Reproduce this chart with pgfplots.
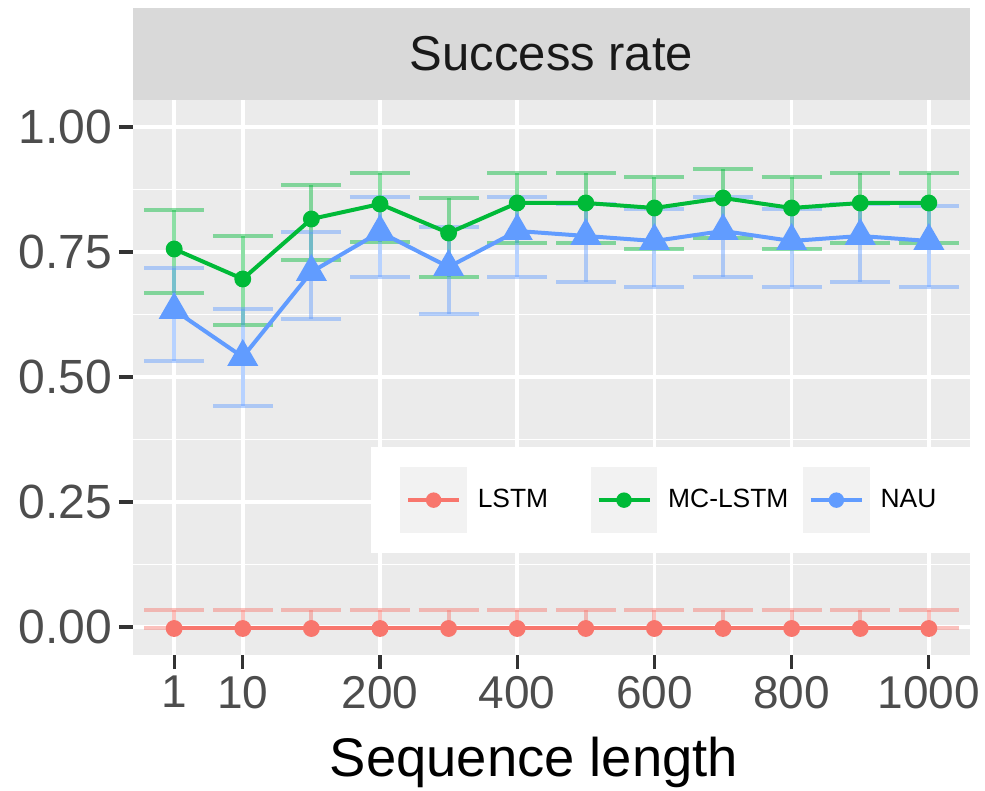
\documentclass[border=0pt]{standalone}
\usepackage{fontspec}
\setmainfont{Liberation Sans}
\usepackage{pgfplots}
\usepackage{pgfplotstable}
\pgfplotsset{compat=1.18}

\definecolor{lstm}{HTML}{F8766D}
\definecolor{mclstm}{HTML}{00BA38}
\definecolor{nau}{HTML}{619CFF}
\definecolor{panelbg}{HTML}{EBEBEB}
\definecolor{stripbg}{HTML}{D9D9D9}
\definecolor{keybg}{HTML}{F2F2F2}
\definecolor{ticktext}{HTML}{4D4D4D}
\definecolor{tickcol}{HTML}{333333}

% x = position of the sequence length (1,10,100,...,1000), y = mean, ep/em = error up/down
\pgfplotstableread{
x y ep em
0 -0.003 0.037 0.000
1 -0.003 0.037 0.000
2 -0.003 0.037 0.000
3 -0.003 0.037 0.000
4 -0.003 0.037 0.000
5 -0.003 0.037 0.000
6 -0.003 0.037 0.000
7 -0.003 0.037 0.000
8 -0.003 0.037 0.000
9 -0.003 0.037 0.000
10 -0.003 0.037 0.000
11 -0.003 0.037 0.000
}\lstmdata

\pgfplotstableread{
x y ep em
0 0.756 0.078 0.088
1 0.696 0.086 0.092
2 0.816 0.068 0.082
3 0.846 0.062 0.076
4 0.788 0.070 0.088
5 0.848 0.060 0.080
6 0.848 0.060 0.080
7 0.838 0.062 0.082
8 0.858 0.058 0.080
9 0.838 0.062 0.082
10 0.848 0.060 0.080
11 0.848 0.060 0.080
}\mcdata

\pgfplotstableread{
x y ep em
0 0.634 0.084 0.102
1 0.540 0.096 0.098
2 0.710 0.080 0.094
3 0.790 0.070 0.090
4 0.720 0.080 0.094
5 0.792 0.068 0.092
6 0.782 0.064 0.092
7 0.772 0.064 0.092
8 0.792 0.068 0.092
9 0.772 0.064 0.092
10 0.782 0.064 0.092
11 0.772 0.070 0.092
}\naudata

\pgfplotsset{
  errs/.style={only marks, mark=none,
    error bars/y dir=both, error bars/y explicit,
    error bars/error mark=|,
    error bars/error bar style={line width=2pt, color=#1, opacity=0.45},
    error bars/error mark options={line width=2pt, color=#1, opacity=0.45, mark size=15pt}},
}

\begin{document}
\begin{tikzpicture}
\begin{axis}[
  scale only axis, width=418.5pt, height=277.5pt,
  xmin=-0.6, xmax=11.6, ymin=-0.056, ymax=1.054,
  axis background/.style={fill=panelbg},
  axis line style={draw=none},
  xtick={0,1,3,5,7,9,11},
  xticklabels={1,10,200,400,600,800,1000},
  ytick={0,0.25,0.5,0.75,1},
  minor ytick={0.125,0.375,0.625,0.875},
  /pgf/number format/assume math mode=true,
  xticklabel style={font=\fontsize{23}{27}\selectfont, text=ticktext},
  yticklabel style={font=\fontsize{24}{28}\selectfont, text=ticktext,
    /pgf/number format/.cd, fixed, fixed zerofill, precision=2},
  xtick pos=left, ytick pos=left,
  tick align=outside,
  major tick length=7pt,
  minor tick length=0pt,
  tick style={draw=tickcol, line width=1.6pt},
  minor tick style={draw=none},
  xmajorgrids, ymajorgrids, yminorgrids,
  major grid style={white, line width=1.8pt},
  minor grid style={white, line width=0.9pt},
  xlabel={Sequence length},
  xlabel style={font=\fontsize{27.2}{32}\selectfont, text=black,
    at={(axis description cs:0.479,0)}, anchor=base, yshift=-61pt},
  legend columns=3,
  legend style={at={(1,0.279)}, anchor=east, draw=none, fill=white,
    inner xsep=14.5pt, inner ysep=10pt, font=\fontsize{13.2}{16}\selectfont,
    nodes={inner sep=0pt},
    /tikz/every odd column/.style={column sep=5.5pt},
    /tikz/every even column/.style={column sep=0pt}},
  legend image code/.code={
    \fill[keybg] (0pt,-15.75pt) rectangle (31.5pt,15.75pt);
    \draw[mark repeat=2, mark phase=2, #1]
      plot coordinates {(3pt,0pt) (15.75pt,0pt) (28.5pt,0pt)};
  },
]
% error bars first, lines and points on top
\addplot[errs=lstm, forget plot] table[x=x, y=y, y error plus=ep, y error minus=em] {\lstmdata};
\addplot[errs=mclstm, forget plot] table[x=x, y=y, y error plus=ep, y error minus=em] {\mcdata};
\addplot[errs=nau, forget plot] table[x=x, y=y, y error plus=ep, y error minus=em] {\naudata};

\addplot[lstm, line width=2pt, mark=*, mark size=3.2pt, mark options={draw=none, fill=lstm}, forget plot]
  table[x=x, y=y] {\lstmdata};
\addplot[mclstm, line width=2pt, mark=*, mark size=3.2pt, mark options={draw=none, fill=mclstm}, forget plot]
  table[x=x, y=y] {\mcdata};
\addplot[nau, line width=2pt, mark=triangle*, mark size=7pt, mark options={draw=none, fill=nau}, forget plot]
  table[x=x, y=y] {\naudata};

\addlegendimage{lstm, line width=1.7pt, mark=*, mark size=3pt, mark options={draw=none, fill=lstm}}
\addlegendentry{\makebox[56.5pt][l]{LSTM}}
\addlegendimage{mclstm, line width=1.7pt, mark=*, mark size=3pt, mark options={draw=none, fill=mclstm}}
\addlegendentry{\makebox[67.5pt][l]{MC-LSTM}}
\addlegendimage{nau, line width=1.7pt, mark=*, mark size=3pt, mark options={draw=none, fill=nau}}
\addlegendentry{\makebox[30pt][l]{NAU}}

\coordinate (bl) at (rel axis cs:0,0);
\coordinate (tl) at (rel axis cs:0,1);
\coordinate (tr) at (rel axis cs:1,1);
\coordinate (tm) at (rel axis cs:0.5,1);
\end{axis}
\fill[stripbg] (tl) rectangle ([yshift=46pt]tr);
\node[inner sep=0pt, font=\fontsize{24.5}{30}\selectfont, text=black!90] at ([yshift=23pt]tm) {Success rate};
\pgfresetboundingbox
\path ([shift={(-66.5pt,-68pt)}]bl) rectangle ([shift={(7.5pt,50pt)}]tr);
\end{tikzpicture}
\end{document}
